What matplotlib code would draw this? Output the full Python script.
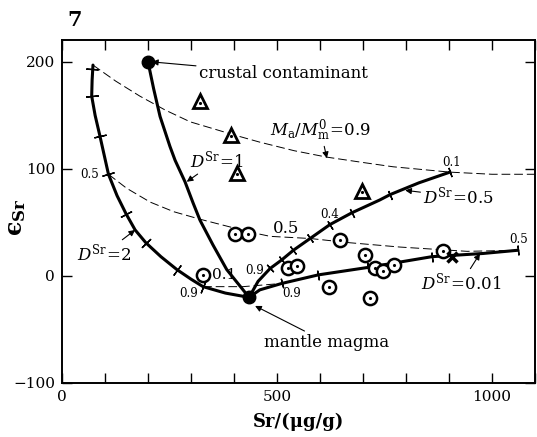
import numpy as np
import matplotlib
matplotlib.use('Agg')
from matplotlib import pyplot as plt

plt.rcParams['font.family'] = 'DejaVu Serif'
plt.rcParams['mathtext.fontset'] = 'dejavuserif'

# AFC curves (Sr in ug/g, eps_Sr)
d2_x = [72, 70, 69, 77, 88, 108, 128, 149, 170, 195, 230, 267, 300, 328, 380, 435]
d2_y = [197, 183, 168, 150, 131, 95, 75, 58, 43, 31, 18, 6, -3, -10, -16, -20]
d2_tick_x = [70, 69, 88, 108, 149, 195, 267, 328]
d2_tick_y = [193, 168, 131, 95, 58, 31, 6, -10]

d1_x = [200, 213, 228, 251, 263, 286, 305, 321, 351, 383, 407, 435]
d1_y = [200, 175, 149, 121, 108, 88, 68, 52, 29, 6, -6, -20]

d05_x = [435, 456, 484, 511, 538, 577, 623, 674, 739, 763, 830, 902]
d05_y = [-20, -5, 7, 15, 24, 35, 48, 59, 71, 76, 87, 97]
d05_tick_x = [484, 511, 538, 577, 623, 674, 763, 902]
d05_tick_y = [7, 15, 24, 35, 48, 59, 76, 97]

d001_x = [435, 460, 511, 596, 712, 860, 979, 1060]
d001_y = [-20, -13, -7, 1, 8, 18, 21, 24]
d001_tick_x = [511, 596, 712, 860, 1060]
d001_tick_y = [-7, 1, 8, 18, 24]

# Ma/Mm0 contours
c09_x = [72, 125, 181, 240, 298, 398, 460, 540, 616, 700, 770, 902, 1000, 1100]
c09_y = [197, 182, 168, 155, 144, 132, 125, 117, 111, 106, 102, 97, 95, 95]
c05_x = [108, 150, 205, 260, 321, 437, 484, 577, 670, 786, 942, 1060]
c05_y = [95, 82, 69, 60, 53, 41, 37, 35, 31, 27, 23, 24]
c01_x = [328, 421, 511]
c01_y = [-10, -10, -7]

# end members
crust = (200, 200)
mantle = (435, -20)

# samples
tri_x = [321, 392, 408, 698]
tri_y = [163, 132, 96, 79]
circ_x = [328, 402, 432, 526, 546, 621, 647, 705, 716, 728, 747, 772, 886]
circ_y = [1, 39, 39, 7, 9, -10, 34, 20, -21, 7, 5, 10, 23]
cross_x = [906]
cross_y = [18]


def curve_ticks(ax, xs, ys, tx, ty, size=7):
    # short ticks drawn perpendicular to the curve
    pts = ax.transData.transform(np.column_stack([xs, ys]))
    for px, py in zip(tx, ty):
        p = ax.transData.transform((px, py))
        i = int(np.argmin(np.hypot(*(pts - p).T)))
        j0, j1 = max(i - 1, 0), min(i + 1, len(pts) - 1)
        d = pts[j1] - pts[j0]
        ang = np.degrees(np.arctan2(d[1], d[0]))
        ax.plot(px, py, marker=(2, 2, ang), ms=size, mew=1.0, color='k')


fig = plt.figure(figsize=(5.37, 4.37), dpi=100)
ax = fig.add_axes([0.1155, 0.1236, 0.8808, 0.785])
ax.set_xlim(0, 1100)
ax.set_ylim(-100, 220.5)

dash = dict(color='k', lw=0.7, ls=(0, (9, 4)))
ax.plot(c09_x, c09_y, **dash)
ax.plot(c05_x, c05_y, **dash)
ax.plot(c01_x, c01_y, **dash)

for xs, ys in [(d2_x, d2_y), (d1_x, d1_y), (d05_x, d05_y), (d001_x, d001_y)]:
    ax.plot(xs, ys, color='k', lw=2.2, solid_capstyle='round')

curve_ticks(ax, d2_x, d2_y, d2_tick_x, d2_tick_y, 9)
curve_ticks(ax, d05_x, d05_y, d05_tick_x, d05_tick_y)
curve_ticks(ax, d001_x, d001_y, d001_tick_x, d001_tick_y)

ax.plot(*crust, 'o', color='k', ms=9)
ax.plot(*mantle, 'o', color='k', ms=9)

ax.plot(tri_x, tri_y, '^', mfc='white', mec='k', mew=2.0, ms=10)
ax.plot(tri_x, [y - 1 for y in tri_y], '.', color='k', ms=2.5)
ax.plot(circ_x, circ_y, 'o', mfc='white', mec='k', mew=1.8, ms=9.5)
ax.plot(circ_x, circ_y, '.', color='k', ms=2.5)
ax.plot(cross_x, cross_y, 'x', color='k', mew=2.5, ms=7)

arr = dict(arrowstyle='-|>', color='k', lw=0.8, mutation_scale=9, shrinkA=0, shrinkB=0)
fs = 12
ax.annotate('crustal contaminant', xy=(209, 200), xytext=(318, 189),
            fontsize=fs, va='center', ha='left', arrowprops=arr)
ax.annotate('mantle magma', xy=(449, -28), xytext=(470, -62),
            fontsize=fs, va='center', ha='left', arrowprops=arr)
ax.annotate(r'$D^{\mathrm{Sr}}\!=\!1$', xy=(290, 88), xytext=(298, 108),
            fontsize=fs, va='center', ha='left', arrowprops=arr)
ax.annotate(r'$D^{\mathrm{Sr}}\!=\!2$', xy=(170, 43), xytext=(35, 21),
            fontsize=fs, va='center', ha='left', arrowprops=arr)
ax.annotate(r'$D^{\mathrm{Sr}}\!=\!0.5$', xy=(798, 80), xytext=(840, 74),
            fontsize=fs, va='center', ha='left', arrowprops=arr)
ax.annotate(r'$D^{\mathrm{Sr}}\!=\!0.01$', xy=(972, 21), xytext=(836, -6),
            fontsize=fs, va='center', ha='left', arrowprops=arr)
ax.annotate(r'$M_{\mathrm{a}}/M_{\mathrm{m}}^{0}\!=\!0.9$', xy=(616, 110), xytext=(484, 136),
            fontsize=fs, va='center', ha='left', arrowprops=arr)

sm = 8.5
ax.text(521, 44, '0.5', fontsize=12, ha='center', va='center')
ax.text(86, 95, '0.5', fontsize=sm, ha='right', va='center')
ax.text(906, 106, '0.1', fontsize=sm, ha='center', va='center')
ax.text(622, 57, '0.4', fontsize=sm, ha='center', va='center')
ax.text(1062, 34, '0.5', fontsize=sm, ha='center', va='center')
ax.text(295, -16, '0.9', fontsize=sm, ha='center', va='center')
ax.text(448, 5, '0.9', fontsize=sm, ha='center', va='center')
ax.text(533, -16, '0.9', fontsize=sm, ha='center', va='center')
ax.text(377, 1, '0.1', fontsize=11, ha='center', va='center')

ax.set_xticks([0, 500, 1000])
ax.set_xticks(np.arange(0, 1101, 100), minor=True)
ax.set_yticks([-100, 0, 100, 200])
ax.tick_params(which='both', direction='in', top=True, right=True, length=7, width=1.0,
               labelsize=11, pad=5)
for s in ax.spines.values():
    s.set_linewidth(1.4)

ax.set_xlabel('Sr/(μg/g)', fontsize=13, fontweight='bold', labelpad=6)
fig.text(0.03, 0.503, '\u03f5$_{\\mathbf{Sr}}$', fontsize=17, fontweight='bold',
         rotation=90, ha='center', va='center', family=['DejaVu Serif', 'DejaVu Sans'])
fig.text(0.125, 0.955, '7', fontsize=15, fontweight='bold', ha='left', va='center')

fig.savefig('out.png', dpi=100)
